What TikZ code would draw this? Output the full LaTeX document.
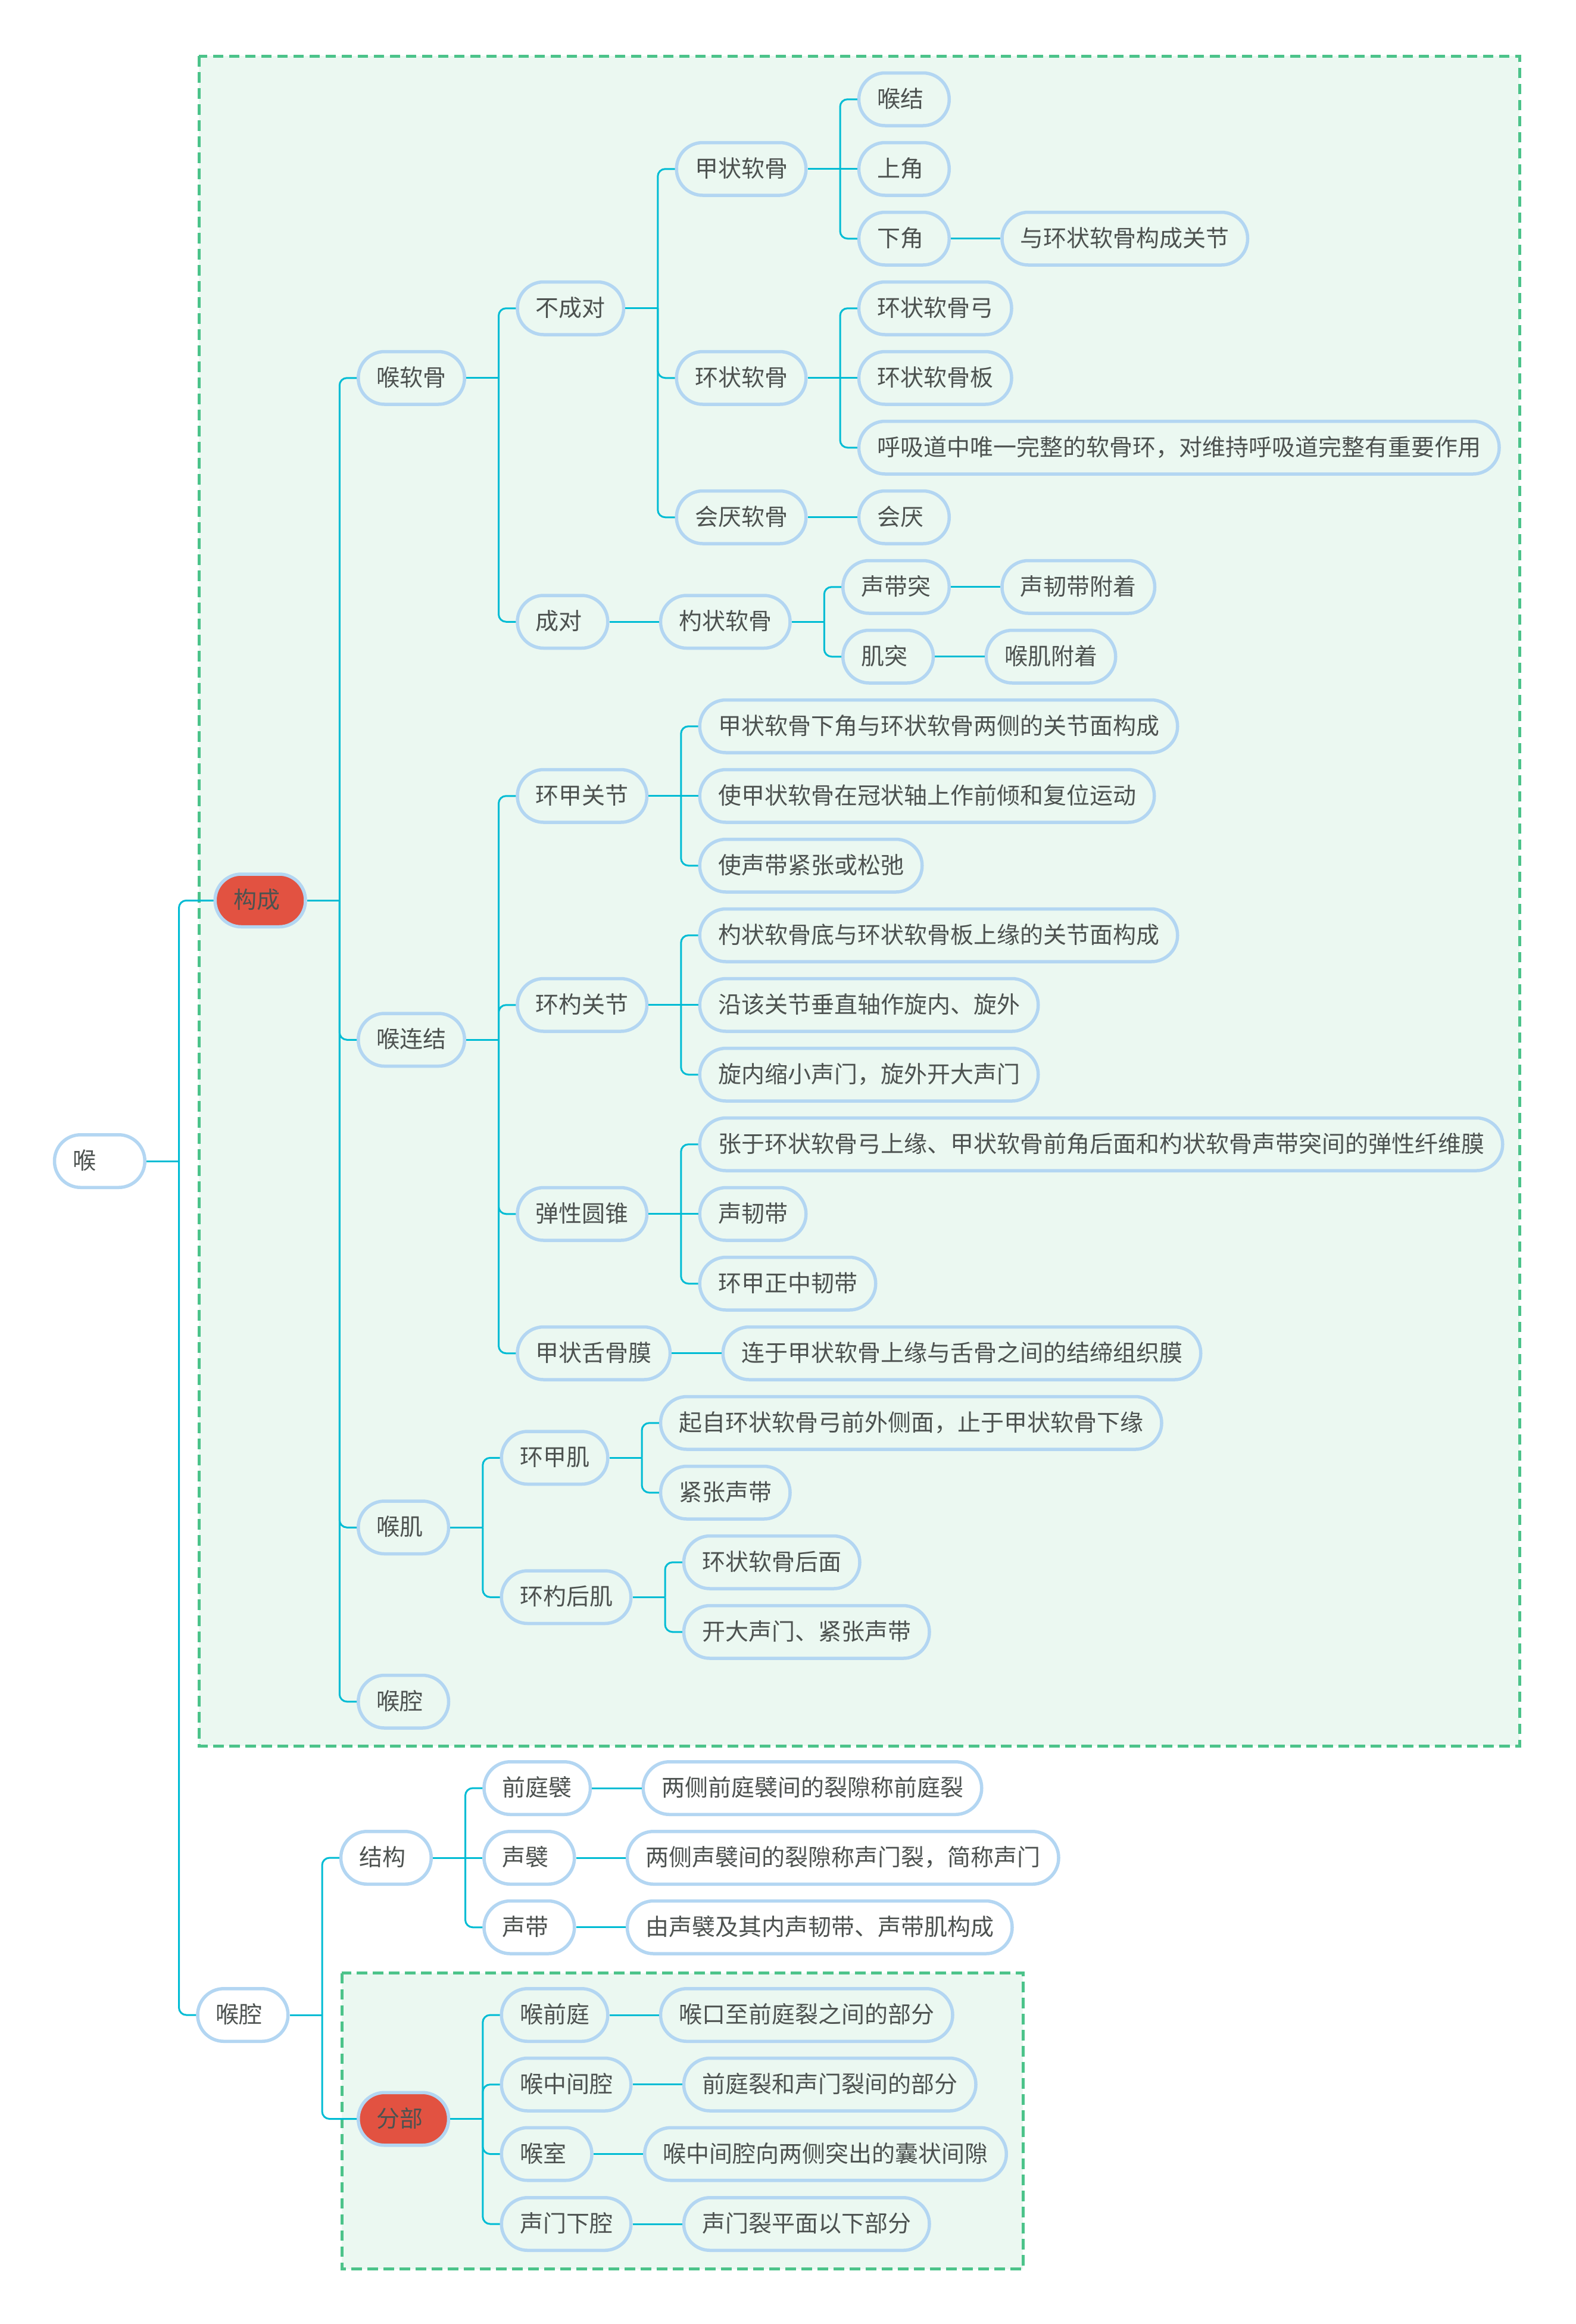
\documentclass[tikz,border=0pt]{standalone}
\usepackage{fontspec}
\setmainfont{Noto Sans CJK SC}
\definecolor{connc}{HTML}{00BCD4}
\definecolor{nodeborder}{HTML}{B3D6F2}
\definecolor{txt}{HTML}{4D5250}
\definecolor{boxgreen}{HTML}{4CC38A}
\definecolor{boxfill}{HTML}{EBF8F1}
\definecolor{redfill}{HTML}{E25241}
\tikzset{
  mm/.style={draw=nodeborder, line width=2.2pt, rounded corners=17.6pt,
    font=\fontsize{15.6pt}{18pt}\selectfont, text=txt,
    inner xsep=12.3pt, inner ysep=0pt, minimum height=35.4pt,
    text height=13.2pt, text depth=2.4pt, anchor=west},
  short/.style={text width=36.1pt, align=left},
  hot/.style={fill=redfill},
  kid/.style={xshift=33.3pt},
  boxkid/.style={xshift=45pt},
  cl/.style={draw=connc, line width=1.2pt},
  dbox/.style={draw=boxgreen, fill=boxfill, line width=2pt, dash pattern=on 7pt off 3.8pt}
}
\newcommand\hub[1]{\draw[cl] (#1.east) -- ++(21.8pt,0) coordinate (#1-t);}
\newcommand\lnk[2]{\draw[cl, rounded corners=5pt] (#1-t) |- (#2.west);}
\newcommand\lnks[2]{\draw[cl] (#1-t) -- (#2.west);}
\newcommand\one[2]{\draw[cl] (#1.east) -- (#2.west);}
\begin{document}
\begin{tikzpicture}[x=1pt, y=-1pt]
\useasboundingbox (0,0) rectangle (1058.4,1561.2);
\fill[white] (0,0) rectangle (1058.4,1561.2);
% boxes
\draw[dbox] (133.6,37.6) rectangle (1020.8,1172.8);
\draw[dbox] (229.6,1325.4) rectangle (687.3,1524.2);
% root
\node[mm,short] (n0) at (35.5,780) {喉};
% level 1
\node[mm,short,hot,boxkid] (a1) at (n0.east |- 0,604.9) {构成};
\node[mm,short,kid] (a2) at (n0.east |- 0,1353.6) {喉腔};
% under 构成
\node[mm,kid] (b1) at (a1.east |- 0,253.9) {喉软骨};
\node[mm,kid] (b2) at (a1.east |- 0,698.5) {喉连结};
\node[mm,short,kid] (b3) at (a1.east |- 0,1026.1) {喉肌};
\node[mm,short,kid] (b4) at (a1.east |- 0,1143.1) {喉腔};
% 喉软骨
\node[mm,kid] (c1) at (b1.east |- 0,207.1) {不成对};
\node[mm,short,kid] (c2) at (b1.east |- 0,417.7) {成对};
\node[mm,kid] (d1) at (c1.east |- 0,113.5) {甲状软骨};
\node[mm,kid] (d2) at (c1.east |- 0,253.9) {环状软骨};
\node[mm,kid] (d3) at (c1.east |- 0,347.5) {会厌软骨};
\node[mm,short,kid] (e1) at (d1.east |- 0,66.7) {喉结};
\node[mm,short,kid] (e2) at (d1.east |- 0,113.5) {上角};
\node[mm,short,kid] (e3) at (d1.east |- 0,160.3) {下角};
\node[mm,kid] (f1) at (e3.east |- 0,160.3) {与环状软骨构成关节};
\node[mm,kid] (e4) at (d2.east |- 0,207.1) {环状软骨弓};
\node[mm,kid] (e5) at (d2.east |- 0,253.9) {环状软骨板};
\node[mm,kid] (e6) at (d2.east |- 0,300.7) {呼吸道中唯一完整的软骨环，对维持呼吸道完整有重要作用};
\node[mm,short,kid] (e7) at (d3.east |- 0,347.5) {会厌};
\node[mm,kid] (d4) at (c2.east |- 0,417.7) {杓状软骨};
\node[mm,kid] (e8) at (d4.east |- 0,394.3) {声带突};
\node[mm,short,kid] (e9) at (d4.east |- 0,441.1) {肌突};
\node[mm,kid] (f2) at (e8.east |- 0,394.3) {声韧带附着};
\node[mm,kid] (f3) at (e9.east |- 0,441.1) {喉肌附着};
% 喉连结
\node[mm,kid] (c3) at (b2.east |- 0,534.7) {环甲关节};
\node[mm,kid] (c4) at (b2.east |- 0,675.1) {环杓关节};
\node[mm,kid] (c5) at (b2.east |- 0,815.5) {弹性圆锥};
\node[mm,kid] (c6) at (b2.east |- 0,909.1) {甲状舌骨膜};
\node[mm,kid] (d5) at (c3.east |- 0,487.9) {甲状软骨下角与环状软骨两侧的关节面构成};
\node[mm,kid] (d6) at (c3.east |- 0,534.7) {使甲状软骨在冠状轴上作前倾和复位运动};
\node[mm,kid] (d7) at (c3.east |- 0,581.5) {使声带紧张或松弛};
\node[mm,kid] (d8) at (c4.east |- 0,628.3) {杓状软骨底与环状软骨板上缘的关节面构成};
\node[mm,kid] (d9) at (c4.east |- 0,675.1) {沿该关节垂直轴作旋内、旋外};
\node[mm,kid] (d10) at (c4.east |- 0,721.9) {旋内缩小声门，旋外开大声门};
\node[mm,kid] (d11) at (c5.east |- 0,768.7) {张于环状软骨弓上缘、甲状软骨前角后面和杓状软骨声带突间的弹性纤维膜};
\node[mm,kid] (d12) at (c5.east |- 0,815.5) {声韧带};
\node[mm,kid] (d13) at (c5.east |- 0,862.3) {环甲正中韧带};
\node[mm,kid] (d14) at (c6.east |- 0,909.1) {连于甲状软骨上缘与舌骨之间的结缔组织膜};
% 喉肌
\node[mm,kid] (c7) at (b3.east |- 0,979.3) {环甲肌};
\node[mm,kid] (c8) at (b3.east |- 0,1072.9) {环杓后肌};
\node[mm,kid] (d15) at (c7.east |- 0,955.9) {起自环状软骨弓前外侧面，止于甲状软骨下缘};
\node[mm,kid] (d16) at (c7.east |- 0,1002.7) {紧张声带};
\node[mm,kid] (d17) at (c8.east |- 0,1049.5) {环状软骨后面};
\node[mm,kid] (d18) at (c8.east |- 0,1096.3) {开大声门、紧张声带};
% 喉腔
\node[mm,short,kid] (b5) at (a2.east |- 0,1248.0) {结构};
\node[mm,short,hot,boxkid] (b6) at (a2.east |- 0,1423.4) {分部};
\node[mm,kid] (c9) at (b5.east |- 0,1201.2) {前庭襞};
\node[mm,short,kid] (c10) at (b5.east |- 0,1248.0) {声襞};
\node[mm,short,kid] (c11) at (b5.east |- 0,1294.7) {声带};
\node[mm,kid] (d19) at (c9.east |- 0,1201.2) {两侧前庭襞间的裂隙称前庭裂};
\node[mm,kid] (d20) at (c10.east |- 0,1248.0) {两侧声襞间的裂隙称声门裂，简称声门};
\node[mm,kid] (d21) at (c11.east |- 0,1294.7) {由声襞及其内声韧带、声带肌构成};
\node[mm,kid] (c12) at (b6.east |- 0,1353.6) {喉前庭};
\node[mm,kid] (c13) at (b6.east |- 0,1400.3) {喉中间腔};
\node[mm,short,kid] (c14) at (b6.east |- 0,1447.0) {喉室};
\node[mm,kid] (c15) at (b6.east |- 0,1494.0) {声门下腔};
\node[mm,kid] (d22) at (c12.east |- 0,1353.6) {喉口至前庭裂之间的部分};
\node[mm,kid] (d23) at (c13.east |- 0,1400.3) {前庭裂和声门裂间的部分};
\node[mm,kid] (d24) at (c14.east |- 0,1447.0) {喉中间腔向两侧突出的囊状间隙};
\node[mm,kid] (d25) at (c15.east |- 0,1494.0) {声门裂平面以下部分};
% connectors
\hub{n0} \lnk{n0}{a1} \lnk{n0}{a2}
\hub{a1} \lnk{a1}{b1} \lnk{a1}{b2} \lnk{a1}{b3} \lnk{a1}{b4}
\hub{b1} \lnk{b1}{c1} \lnk{b1}{c2}
\hub{c1} \lnk{c1}{d1} \lnk{c1}{d2} \lnk{c1}{d3}
\hub{d1} \lnk{d1}{e1} \lnks{d1}{e2} \lnk{d1}{e3}
\one{e3}{f1}
\hub{d2} \lnk{d2}{e4} \lnks{d2}{e5} \lnk{d2}{e6}
\one{d3}{e7}
\one{c2}{d4}
\hub{d4} \lnk{d4}{e8} \lnk{d4}{e9}
\one{e8}{f2}
\one{e9}{f3}
\hub{b2} \lnk{b2}{c3} \lnk{b2}{c4} \lnk{b2}{c5} \lnk{b2}{c6}
\hub{c3} \lnk{c3}{d5} \lnks{c3}{d6} \lnk{c3}{d7}
\hub{c4} \lnk{c4}{d8} \lnks{c4}{d9} \lnk{c4}{d10}
\hub{c5} \lnk{c5}{d11} \lnks{c5}{d12} \lnk{c5}{d13}
\one{c6}{d14}
\hub{b3} \lnk{b3}{c7} \lnk{b3}{c8}
\hub{c7} \lnk{c7}{d15} \lnk{c7}{d16}
\hub{c8} \lnk{c8}{d17} \lnk{c8}{d18}
\hub{a2} \lnk{a2}{b5} \lnk{a2}{b6}
\hub{b5} \lnk{b5}{c9} \lnks{b5}{c10} \lnk{b5}{c11}
\one{c9}{d19}
\one{c10}{d20}
\one{c11}{d21}
\hub{b6} \lnk{b6}{c12} \lnk{b6}{c13} \lnk{b6}{c14} \lnk{b6}{c15}
\one{c12}{d22}
\one{c13}{d23}
\one{c14}{d24}
\one{c15}{d25}
\end{tikzpicture}
\end{document}
